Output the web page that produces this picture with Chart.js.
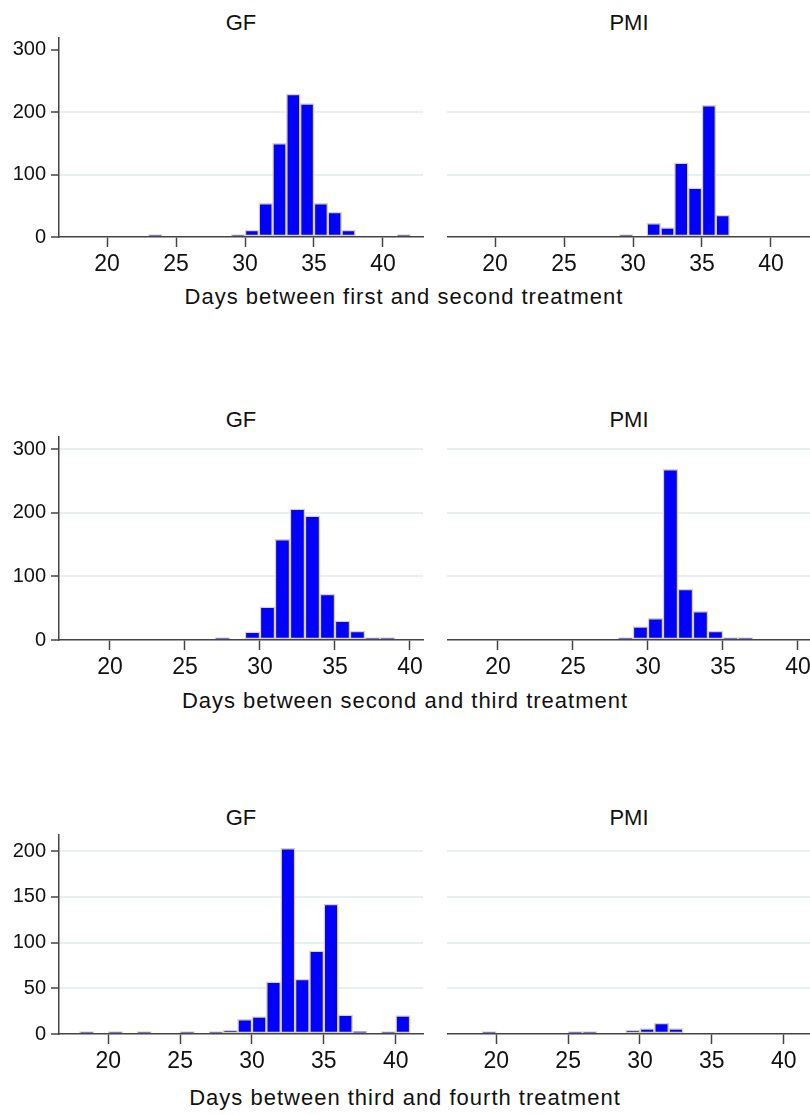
<!DOCTYPE html>
<html>
<head>
<meta charset="utf-8">
<script src="https://cdn.jsdelivr.net/npm/chart.js@4.4.1/dist/chart.umd.min.js"></script>
<style>
  html, body { margin: 0; padding: 0; background: #fff; }
  body {
    position: relative; width: 810px; height: 1115px; overflow: hidden;
    font-family: "Liberation Sans", Arial, sans-serif; color: #111;
  }
  .panel { position: absolute; }
  .ttl {
    position: absolute; font-size: 22px; line-height: 22px;
    white-space: nowrap; transform: translateX(-50%);
  }
  .xt { letter-spacing: 1px; }
</style>
</head>
<body>

<div class="ttl" style="left:241px; top:12px">GF</div>
<div class="ttl" style="left:629px; top:12px">PMI</div>
<div class="ttl xt" style="left:404px; top:286px">Days between first and second treatment</div>

<div class="ttl" style="left:241px; top:409px">GF</div>
<div class="ttl" style="left:629px; top:409px">PMI</div>
<div class="ttl xt" style="left:405px; top:690px">Days between second and third treatment</div>

<div class="ttl" style="left:241px; top:807px">GF</div>
<div class="ttl" style="left:629px; top:807px">PMI</div>
<div class="ttl xt" style="left:405px; top:1087px">Days between third and fourth treatment</div>

<script>
// ── Data: bin start (days, width 1) and frequency ─────────────────────────────

const xTicks = [20, 25, 30, 35, 40];
const yTicksTall  = [0, 100, 200, 300];
const yTicksShort = [0, 50, 100, 150, 200];

// first -> second treatment
const binsGF1   = [23, 29, 30, 31, 32, 33, 34, 35, 36, 37, 41];
const countsGF1 = [1, 4, 11, 54, 150, 229, 214, 54, 40, 11, 1];
const binsPMI1   = [29, 31, 32, 33, 34, 35, 36];
const countsPMI1 = [1, 22, 15, 119, 79, 211, 35];

// second -> third treatment
const binsGF2   = [27, 29, 30, 31, 32, 33, 34, 35, 36, 37, 38];
const countsGF2 = [1, 13, 52, 158, 206, 195, 72, 30, 14, 1, 1];
const binsPMI2   = [28, 29, 30, 31, 32, 33, 34, 35, 36];
const countsPMI2 = [1, 21, 34, 268, 80, 45, 14, 3, 3];

// third -> fourth treatment
const binsGF3   = [18, 20, 22, 25, 27, 28, 29, 30, 31, 32, 33, 34, 35, 36, 37, 39, 40];
const countsGF3 = [1, 1, 1, 2, 1, 4, 16, 19, 57, 203, 60, 91, 142, 21, 3, 1, 20];
const binsPMI3   = [19, 25, 26, 29, 30, 31, 32];
const countsPMI3 = [2, 1, 1, 4, 6, 12, 6];

// ── Style ─────────────────────────────────────────────────────────────────────

const FONT     = '"Liberation Sans", Arial, sans-serif';
const BAR_FILL = '#0000ff';
const BAR_EDGE = '#dcd4a6';
const AXIS     = '#444444';
const GRID     = '#e8f0f2';
const TEXT     = '#111111';

const PAD_TOP   = 20;
const PAD_RIGHT = 12;
const X_AXIS_H  = 45;
const PLOT_W    = 364;

// ── Build ─────────────────────────────────────────────────────────────────────

function panel({ left, yAxisW, plotTop, plotBottom, bins, counts, xMin, xMax, yMax, yTicks, gridTop }) {
  const withAxis = yAxisW > 0;
  const w = yAxisW + PLOT_W + PAD_RIGHT;
  const h = PAD_TOP + (plotBottom - plotTop) + X_AXIS_H;

  const box = document.createElement('div');
  box.className = 'panel';
  box.style.left = left + 'px';
  box.style.top  = (plotTop - PAD_TOP) + 'px';
  const canvas = document.createElement('canvas');
  canvas.width = w;
  canvas.height = h;
  canvas.style.width = w + 'px';
  canvas.style.height = h + 'px';
  box.appendChild(canvas);
  document.body.appendChild(box);

  new Chart(canvas, {
    type: 'bar',
    data: {
      datasets: [{
        data: bins.map((b, i) => ({ x: b + 0.5, y: counts[i] })),
        backgroundColor: BAR_FILL,
        borderColor:     BAR_EDGE,
        borderWidth:     1.5,
        borderSkipped:   false,
        minBarLength:    2.5,
        barPercentage:      1,
        categoryPercentage: 1,
      }],
    },
    options: {
      responsive: false,
      animation:  false,
      layout: { padding: { top: PAD_TOP, right: PAD_RIGHT, left: 0, bottom: 0 } },
      plugins: {
        legend:  { display: false },
        tooltip: { enabled: false },
      },
      scales: {
        x: {
          type: 'linear',
          offset: false,
          min: xMin,
          max: xMax,
          afterBuildTicks: (s) => { s.ticks = xTicks.map((v) => ({ value: v })); },
          afterFit: (s) => { s.height = X_AXIS_H; },
          grid: {
            offset: false,
            drawOnChartArea: false,
            drawTicks: true,
            tickLength: 10,
            tickColor: AXIS,
            tickWidth: 1.5,
          },
          border: { display: true, color: AXIS, width: 1.5, z: 1 },
          ticks: {
            font: { family: FONT, size: 23 },
            color: TEXT,
            padding: 4,
            maxRotation: 0,
            autoSkip: false,
            callback: (v) => String(v),
          },
        },
        y: {
          min: 0,
          max: yMax,
          afterBuildTicks: (s) => { s.ticks = yTicks.map((v) => ({ value: v })); },
          afterFit: (s) => { s.width = yAxisW; },
          grid: {
            color: (ctx) => (ctx.tick.value === 0 || ctx.tick.value > gridTop) ? 'rgba(0,0,0,0)' : GRID,
            lineWidth: 2,
            drawTicks: withAxis,
            tickLength: 8,
            tickColor: AXIS,
            tickWidth: 1.5,
          },
          border: { display: withAxis, color: AXIS, width: 1.5, z: 1 },
          ticks: {
            display: withAxis,
            font: { family: FONT, size: 20 },
            color: TEXT,
            padding: 5,
            callback: (v) => String(v),
          },
        },
      },
    },
  });
}

const rows = [
  { plotTop: 38,  plotBottom: 237,  xMin: 16.52, xMax: 42.9,  yMax: 319,   yTicks: yTicksTall,  gridTop: 200,
    gf: [binsGF1, countsGF1], pmi: [binsPMI1, countsPMI1] },
  { plotTop: 437, plotBottom: 640,  xMin: 16.6,  xMax: 40.87, yMax: 319,   yTicks: yTicksTall,  gridTop: 300,
    gf: [binsGF2, countsGF2], pmi: [binsPMI2, countsPMI2] },
  { plotTop: 835, plotBottom: 1034, xMin: 16.57, xMax: 41.9,  yMax: 217.5, yTicks: yTicksShort, gridTop: 200,
    gf: [binsGF3, countsGF3], pmi: [binsPMI3, countsPMI3] },
];

rows.forEach((r) => {
  const common = { plotTop: r.plotTop, plotBottom: r.plotBottom, xMin: r.xMin, xMax: r.xMax,
                   yMax: r.yMax, yTicks: r.yTicks, gridTop: r.gridTop };
  panel({ ...common, left: 0,   yAxisW: 59, bins: r.gf[0],  counts: r.gf[1] });
  panel({ ...common, left: 447, yAxisW: 0,  bins: r.pmi[0], counts: r.pmi[1] });
});
</script>
</body>
</html>
